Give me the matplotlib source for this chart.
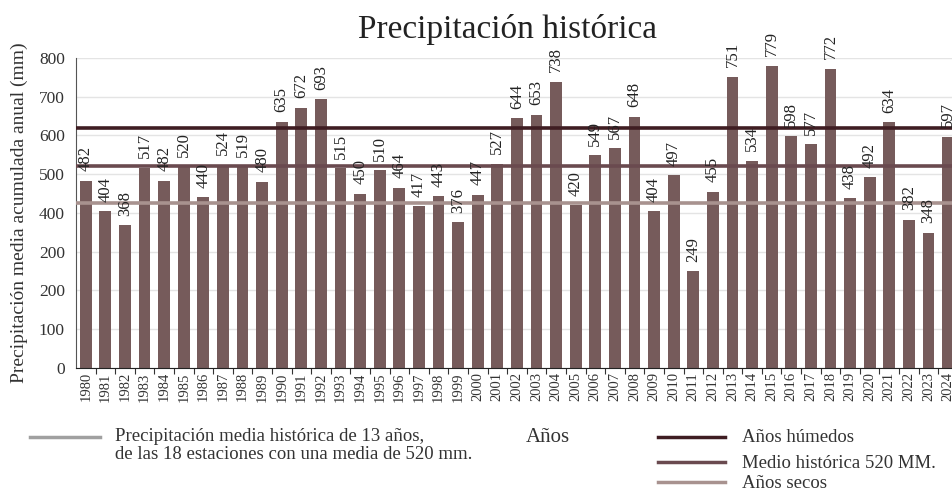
import matplotlib.pyplot as plt
import numpy as np

plt.rcParams['font.family'] = ['Liberation Serif', 'DejaVu Serif']

# --- datos ---
years = list(range(1980, 2025))
precip = [482, 404, 368, 517, 482, 520, 440, 524, 519, 480,
          635, 672, 693, 515, 450, 510, 464, 417, 443, 376,
          447, 527, 644, 653, 738, 420, 549, 567, 648, 404,
          497, 249, 455, 751, 534, 779, 598, 577, 772, 438,
          492, 634, 382, 348, 597]
ytick_vals = [0, 100, 200, 300, 400, 500, 600, 700, 800]
ytick_labels = ['0', '100', '200', '200', '400', '500', '600', '700', '800']
ref_levels = [620, 520, 425]   # húmedos, media, secos
ref_labels = ['Años húmedos', 'Medio histórica 520 MM.', 'Años secos']
ref_colors = ['#3f1d22', '#6a4a4f', '#a8928f']

bar_color = '#765b5b'

fig = plt.figure(figsize=(9.52, 4.9), dpi=100)
ax = fig.add_axes([0.0798, 0.249, 0.9202, 0.6327])

x = np.arange(len(years))
ax.bar(x, precip, width=0.6, color=bar_color, zorder=2)

for lvl, c in zip(ref_levels, ref_colors):
    ax.axhline(lvl, color=c, lw=2.6, zorder=3)

for xi, v in zip(x, precip):
    ax.annotate(str(v), (xi, v), xytext=(0, 7), textcoords='offset points',
                rotation=90, ha='center', va='bottom', fontsize=12,
                color='#222222', annotation_clip=False, zorder=4)

ax.set_ylim(0, 800)
ax.set_xlim(-0.5, 44.2)
ax.set_yticks(ytick_vals)
ax.set_yticklabels(ytick_labels, fontsize=12.5, color='#333333')
ax.tick_params(axis='y', length=0, pad=8)
ax.yaxis.grid(True, color='#e4e4e4', lw=1, zorder=0)
ax.set_axisbelow(True)

ax.set_xticks(x)
ax.set_xticklabels([str(y) for y in years], rotation=90, fontsize=10.5, color='#333333')
ax.tick_params(axis='x', length=0, pad=3)
ax.set_xticks(x[:-1] + 0.5, minor=True)
ax.tick_params(axis='x', which='minor', length=4, width=0.8, color='#333333', direction='out')

for s in ['top', 'right']:
    ax.spines[s].set_visible(False)
ax.spines['left'].set_color('#555555')
ax.spines['bottom'].set_color('#222222')

ax.set_ylabel('Precipitación media acumulada anual (mm)', fontsize=14, color='#333333', labelpad=8)
fig.text(0.533, 0.94, 'Precipitación histórica', ha='center', va='center', fontsize=24, color='#222222')

# --- leyenda inferior ---
fig.add_artist(plt.Line2D([30 / 952, 100 / 952], [1 - 437 / 490] * 2, color='#a0a0a0', lw=2.5))
fig.text(115 / 952, 1 - 428 / 490,
         'Precipitación media histórica de 13 años,\nde las 18 estaciones con una media de 520 mm.',
         ha='left', va='top', fontsize=13.5, color='#333333', linespacing=1.1)
fig.text(548 / 952, 1 - 437 / 490, 'Años', ha='center', va='center', fontsize=15, color='#333333')

leg_y = [437, 462, 482]
for yy, lab, c in zip(leg_y, ref_labels, ref_colors):
    fig.add_artist(plt.Line2D([658 / 952, 725 / 952], [1 - yy / 490] * 2, color=c, lw=2.5))
    fig.text(742 / 952, 1 - (yy + 1) / 490, lab, ha='left', va='center', fontsize=13.5, color='#333333')

fig.savefig('out.png', dpi=100)
